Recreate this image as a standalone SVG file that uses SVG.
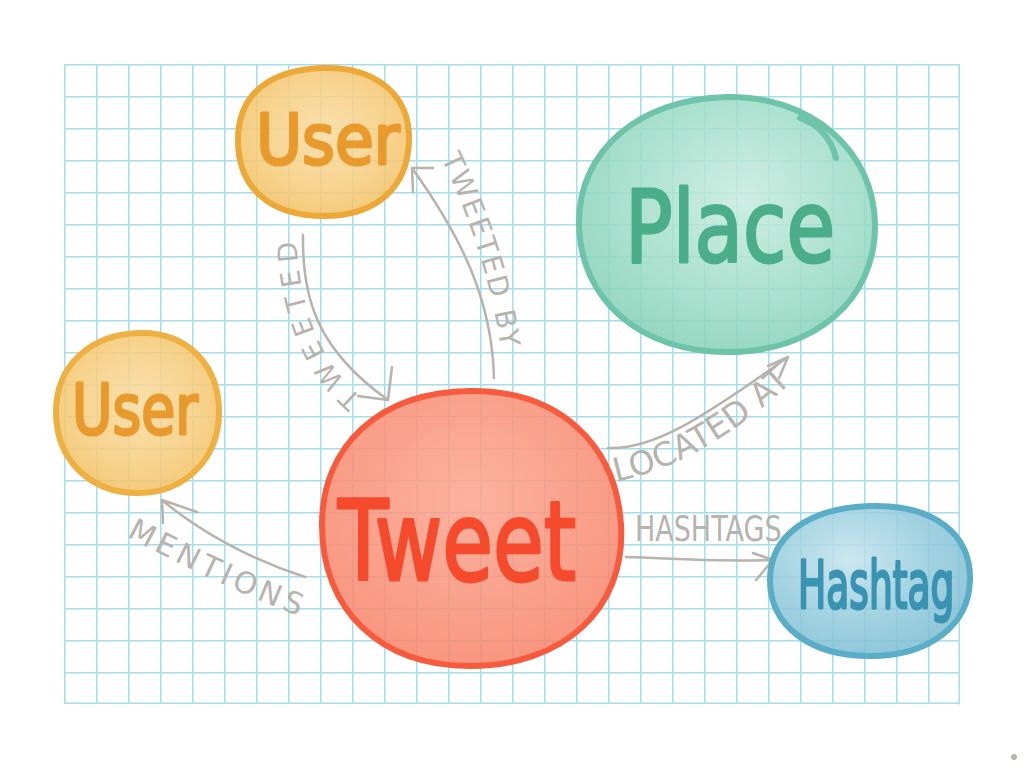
<svg xmlns="http://www.w3.org/2000/svg" width="1024" height="768" viewBox="0 0 1024 768">
<style>
.conn{fill:none;stroke:#B7B3AD;stroke-width:2.5;stroke-linecap:round;stroke-linejoin:round}
.lbl{font-family:"DejaVu Sans","Liberation Sans",sans-serif;fill:#B7B3AD;font-weight:normal}
.ntext{font-family:"DejaVu Sans","Liberation Sans",sans-serif;stroke-width:3;stroke-linejoin:round;stroke-linecap:round}
.outline{fill-opacity:0.85;stroke-width:6;stroke-linecap:round;stroke-linejoin:round}
</style>
<defs>
<pattern id="grid" x="64" y="64" width="32" height="32" patternUnits="userSpaceOnUse">
<path d="M0.75,0 V32 M0,0.75 H32" stroke="#A6DDEB" stroke-width="1.5" fill="none"/>
</pattern>
<radialGradient id="gUser" cx="0.5" cy="0.45" r="0.55">
<stop offset="0" stop-color="#F9DBA0"/><stop offset="0.7" stop-color="#F6CB7A"/><stop offset="1" stop-color="#F3C265"/>
</radialGradient>
<radialGradient id="gPlace" cx="0.55" cy="0.4" r="0.6">
<stop offset="0" stop-color="#C6EBDF"/><stop offset="0.7" stop-color="#9ADAC5"/><stop offset="1" stop-color="#86D2B8"/>
</radialGradient>
<radialGradient id="gTweet" cx="0.5" cy="0.4" r="0.6">
<stop offset="0" stop-color="#FBA590"/><stop offset="0.7" stop-color="#F98E75"/><stop offset="1" stop-color="#F8846A"/>
</radialGradient>
<radialGradient id="gHash" cx="0.4" cy="0.35" r="0.65">
<stop offset="0" stop-color="#C4E3EC"/><stop offset="0.6" stop-color="#93CBDC"/><stop offset="1" stop-color="#7DBED3"/>
</radialGradient>
<path id="p1" d="M362,398 C326,366 301,322 296,238"/>
<path id="p2" d="M441,158 C468,214 492,280 502,358"/>
<path id="p3" d="M616,482 C680,468 740,432 798,376"/>
<path id="p5" d="M126,536 C190,570 250,598 304,618"/>
</defs>

<g id="grid-bg">
<rect x="64" y="64" width="896" height="640" fill="url(#grid)"/>
<path d="M959.25,64 V704.5 M64,703.25 H960" stroke="#A6DDEB" stroke-width="1.5" fill="none"/>
</g>

<g id="connectors">
<path class="conn" d="M303,235 C302,300 318,350 388,400"/>
<path class="conn" d="M392,367 L388,400 L358,396"/>
<path class="conn" d="M494,378 C492,300 462,238 412,168"/>
<path class="conn" d="M413,192 L412,168 L433,168"/>
<path class="conn" d="M608,448 C652,450 700,420 788,357"/>
<path class="conn" d="M768,366 L788,357 L779,378"/>
<path class="conn" d="M626,557 C670,558 700,562 773,560"/>
<path class="conn" d="M753,553 L773,560 L756,580"/>
<path class="conn" d="M305,577 C252,560 200,532 162,500"/>
<path class="conn" d="M197,512 L162,500 L163,523"/>
<text class="lbl" font-size="27"><textPath href="#p1" textLength="175" lengthAdjust="spacing">TWEETED</textPath></text>
<text class="lbl" font-size="28"><textPath href="#p2" textLength="200" lengthAdjust="spacing">TWEETED BY</textPath></text>
<text class="lbl" font-size="33"><textPath href="#p3" textLength="205" lengthAdjust="spacing">LOCATED AT</textPath></text>
<text class="lbl" font-size="36" transform="translate(635,541) scale(0.75,1)">HASHTAGS</text>
<text class="lbl" font-size="30"><textPath href="#p5" textLength="190" lengthAdjust="spacing">MENTIONS</textPath></text>
<circle cx="1014" cy="757" r="3" fill="#B7B3AD"/>
</g>

<g id="node-user-top">
<path class="outline" fill="url(#gUser)" stroke="#EDA937" d="M322,68 C372,66 410,92 409,140 C408,188 376,216 324,216 C272,216 238,190 238,140 C238,92 272,70 322,68 Z"/>
<text class="ntext" font-size="70" transform="translate(256,164) scale(0.9,1)" fill="#E99A2D" stroke="#E99A2D">User</text>
</g>

<g id="node-user-left">
<path class="outline" fill="url(#gUser)" stroke="#EDB041" d="M140,333 C188,332 219,366 219,412 C219,458 186,493 138,493 C90,493 56,460 56,412 C56,364 92,334 140,333 Z"/>
<text class="ntext" font-size="70" transform="translate(72,434) scale(0.79,1)" fill="#E99A2D" stroke="#E99A2D">User</text>
</g>

<g id="node-place">
<path class="outline" fill="url(#gPlace)" stroke="#6DC4A8" d="M726,97 C810,95 875,150 875,226 C875,300 815,352 728,352 C640,352 580,300 579,224 C578,150 640,99 726,97 Z"/>
<path d="M800,118 C822,126 832,142 836,158" fill="none" stroke="#6DC4A8" stroke-width="6" stroke-linecap="round"/>
<text class="ntext" font-size="100" transform="translate(625,262) scale(0.79,1)" fill="#4BAE8B" stroke="#4BAE8B">Place</text>
</g>

<g id="node-tweet">
<path class="outline" fill="url(#gTweet)" stroke="#F75A3C" d="M470,391 C560,390 616,445 621,525 C626,610 562,666 470,666 C380,666 322,610 322,525 C322,445 380,392 470,391 Z"/>
<text class="ntext" font-size="110" transform="translate(338,580) scale(0.75,1)" fill="#F54A2C" stroke="#F54A2C">Tweet</text>
</g>

<g id="node-hashtag">
<path class="outline" fill="url(#gHash)" stroke="#5AADC6" d="M870,506 C935,504 971,535 970,580 C969,625 930,656 870,656 C810,656 770,626 770,580 C770,536 808,508 870,506 Z"/>
<text class="ntext" font-size="66" transform="translate(798,608) scale(0.57,1)" fill="#3A93B1" stroke="#3A93B1">Hashtag</text>
</g>
</svg>
